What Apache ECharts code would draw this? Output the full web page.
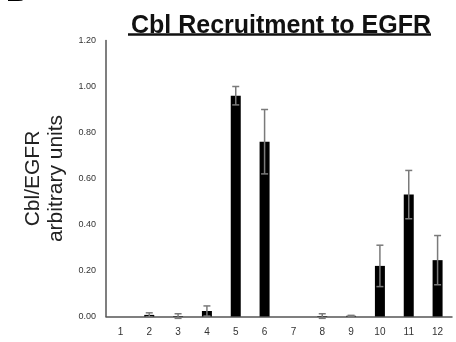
<!DOCTYPE html>
<html><head><meta charset="utf-8">
<script src="https://cdn.jsdelivr.net/npm/echarts@6/dist/echarts.min.js"></script>
<style>html,body{margin:0;padding:0;background:#fff}#c{width:456px;height:342px}</style>
</head><body><div id="c"></div>
<script>
var categories = ['1','2','3','4','5','6','7','8','9','10','11','12'];
var means = [0, 0.007, 0.002, 0.024, 0.96, 0.76, 0, 0.002, 0.003, 0.22, 0.53, 0.245];
var errors = [0, 0.009, 0.01, 0.022, 0.04, 0.14, 0, 0.01, 0.002, 0.09, 0.105, 0.107];
var yTicks = [0, 0.2, 0.4, 0.6, 0.8, 1.0, 1.2];

var chart = echarts.init(document.getElementById('c'));
var errData = [];
categories.forEach(function(c, i){ if (errors[i] > 0) errData.push([i, means[i] - errors[i], means[i] + errors[i]]); });
chart.setOption({
  animation: false,
  title: {
    text: 'Cbl Recruitment to EGFR',
    left: 126, top: 9,
    textStyle: {fontFamily: 'Liberation Sans', fontWeight: 'bold', fontSize: 25, color: '#111'}
  },
  graphic: [
    {type: 'line', shape: {x1: 128, y1: 34.5, x2: 431, y2: 34.5}, style: {stroke: '#111', lineWidth: 2.5}},
    {type: 'text', x: 6, y: 8, style: {text: 'B', font: 'bold 30px "Liberation Sans"', fill: '#000', verticalAlign: 'bottom', align: 'left'}}
  ],
  grid: {left: 106, right: 4, top: 40.5, bottom: 25.5},
  xAxis: {
    type: 'category', data: categories,
    axisLine: {lineStyle: {color: '#555', width: 1.5}},
    axisTick: {show: false},
    axisLabel: {color: '#333', fontSize: 10, fontFamily: 'Liberation Sans', margin: 11}
  },
  yAxis: {
    type: 'value', min: 0, max: 1.2, interval: 0.2,
    name: 'Cbl/EGFR\narbitrary units',
    nameLocation: 'middle', nameRotate: 90, nameGap: 35,
    nameTextStyle: {fontFamily: 'Liberation Sans', fontSize: 21, color: '#222', lineHeight: 23},
    axisLine: {show: true, lineStyle: {color: '#555', width: 1.5}},
    axisTick: {show: false},
    splitLine: {show: false},
    axisLabel: {color: '#333', fontSize: 9, fontFamily: 'Liberation Sans', margin: 10,
      formatter: function(v){ return v.toFixed(2); }}
  },
  series: [
    {type: 'bar', data: means, barWidth: 10, itemStyle: {color: '#000'}},
    {type: 'custom', data: errData, z: 5,
      renderItem: function(params, api){
        var x = api.value(0);
        var lo = api.coord([x, api.value(1)]);
        var hi = api.coord([x, api.value(2)]);
        var hw = 3.5;
        var st = {stroke: '#7a7a7a', lineWidth: 1.5};
        return {type: 'group', children: [
          {type: 'line', shape: {x1: lo[0], y1: lo[1], x2: hi[0], y2: hi[1]}, style: st},
          {type: 'line', shape: {x1: hi[0]-hw, y1: hi[1], x2: hi[0]+hw, y2: hi[1]}, style: st},
          {type: 'line', shape: {x1: lo[0]-hw, y1: lo[1], x2: lo[0]+hw, y2: lo[1]}, style: st}
        ]};
      }
    }
  ]
});
</script></body></html>
